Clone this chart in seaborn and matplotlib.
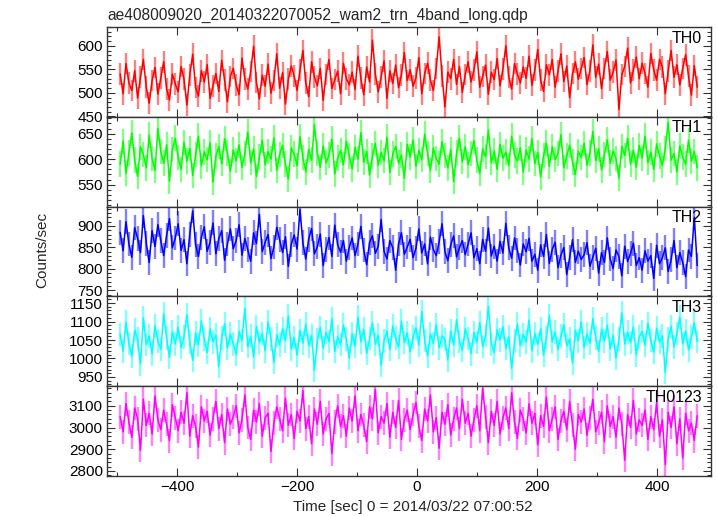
import numpy as np
import pandas as pd
import matplotlib
matplotlib.use("Agg")
import matplotlib.pyplot as plt
from matplotlib.ticker import MultipleLocator
import seaborn as sns

sns.set_theme(style="white")
plt.rcParams['font.family'] = ['Liberation Sans', 'DejaVu Sans']

title = "ae408009020_20140322070052_wam2_trn_4band_long.qdp"
x_label = "Time [sec] 0 = 2014/03/22 07:00:52"
y_label = "Counts/sec"
t_start, t_end = -495, 467

band_names = ["TH0", "TH1", "TH2", "TH3", "TH0123"]
band_colors = ["#ff0000", "#00ff00", "#0000ff", "#00ffff", "#ff00ff"]
band_errors = [23, 25, 29, 32, 55]

th0 = [540, 498, 562, 521, 505, 547, 489, 533, 571, 512, 478, 526, 554, 497, 531, 566, 508, 485, 540, 519,
       502, 556, 529, 474, 538, 582, 511, 493, 547, 523, 560, 488, 515, 541, 503, 569, 527, 481, 535, 552,
       517, 496, 574, 530, 508, 545, 599, 522, 487, 538, 514, 561, 499, 526, 583, 510, 543, 476, 529, 557,
       536, 505, 548, 590, 521, 492, 566, 533, 515, 552, 484, 539, 571, 509, 528, 546, 498, 563, 530, 517,
       544, 507, 578, 531, 496, 555, 523, 612, 540, 502, 534, 568, 488, 547, 520, 559, 511, 538, 586, 526,
       549, 514, 532, 575, 498, 541, 563, 527, 505, 552, 619, 536, 470, 544, 530, 571, 518, 556, 501, 539,
       566, 523, 548, 587, 512, 535, 559, 497, 544, 528, 573, 515, 551, 600, 534, 508, 562, 540, 521, 555,
       531, 578, 516, 549, 592, 527, 503, 560, 538, 571, 512, 546, 583, 524, 557, 490, 541, 566, 529, 552,
       575, 518, 547, 602, 533, 561, 509, 552, 588, 527, 544, 570, 465, 539, 556, 595, 521, 548, 576, 530,
       563, 541, 512, 584, 549, 527, 571, 555, 498, 546, 590, 533, 560, 517, 552, 581, 536, 495, 558, 512]

th1 = [590, 635, 572, 612, 651, 598, 566, 624, 609, 583, 647, 601, 578, 660, 615, 592, 628, 557, 619, 641,
       603, 580, 633, 596, 621, 568, 609, 645, 587, 614, 599, 632, 555, 606, 625, 591, 640, 612, 576, 618,
       597, 628, 584, 611, 653, 593, 620, 566, 604, 637, 589, 615, 600, 642, 578, 609, 627, 590, 561, 622,
       610, 587, 644, 603, 575, 619, 598, 668, 612, 584, 626, 593, 608, 639, 571, 602, 617, 589, 635, 606,
       581, 623, 600, 652, 594, 615, 569, 606, 631, 588, 613, 597, 643, 574, 610, 625, 592, 608, 562, 629,
       604, 638, 586, 617, 599, 649, 611, 578, 622, 601, 590, 634, 607, 583, 619, 556, 612, 641, 595, 624,
       589, 611, 636, 598, 572, 620, 605, 657, 593, 616, 580, 629, 602, 614, 587, 645, 608, 596, 622, 575,
       618, 600, 640, 591, 613, 565, 607, 632, 586, 624, 599, 611, 648, 583, 606, 627, 594, 570, 615, 603,
       631, 588, 612, 654, 597, 620, 579, 609, 638, 592, 616, 601, 563, 625, 607, 641, 590, 618, 584, 627,
       602, 645, 593, 614, 580, 630, 606, 588, 621, 672, 598, 611, 575, 626, 604, 590, 637, 596, 615, 583]

th2 = [885, 842, 910, 858, 827, 896, 871, 838, 924, 860, 815, 889, 852, 903, 866, 831, 878, 917, 849, 872,
       905, 843, 868, 812, 881, 935, 856, 829, 874, 898, 841, 862, 907, 835, 870, 889, 820, 858, 893, 847,
       866, 903, 832, 871, 845, 818, 884, 859, 927, 840, 862, 880, 824, 851, 897, 868, 838, 875, 806, 857,
       879, 846, 938, 861, 823, 869, 894, 835, 852, 881, 808, 845, 873, 829, 902, 856, 839, 866, 818, 850,
       872, 831, 858, 899, 844, 810, 862, 877, 836, 853, 915, 841, 823, 866, 849, 797, 858, 884, 834, 851,
       869, 826, 848, 893, 837, 858, 812, 874, 845, 831, 863, 905, 840, 819, 856, 877, 828, 849, 866, 833,
       858, 884, 826, 847, 812, 869, 841, 895, 830, 853, 818, 864, 837, 906, 849, 825, 872, 843, 809, 858,
       840, 871, 818, 834, 797, 856, 829, 880, 813, 845, 862, 803, 832, 850, 787, 826, 868, 815, 841, 822,
       833, 861, 806, 827, 848, 790, 838, 815, 872, 823, 801, 844, 829, 784, 853, 817, 836, 860, 808, 826,
       797, 842, 818, 831, 778, 855, 812, 826, 849, 794, 821, 866, 803, 838, 815, 782, 844, 829, 920, 808]

th3 = [1065, 1020, 1098, 1041, 1006, 1077, 1052, 985, 1110, 1038, 1061, 1012, 1089, 1047, 1025, 1120, 1056, 1003, 1072, 1039,
       1085, 1030, 1058, 1118, 1044, 995, 1069, 1036, 1102, 1051, 1016, 1080, 1045, 1063, 978, 1055, 1094, 1027, 1066, 1040,
       1011, 1073, 1049, 1135, 1032, 1060, 1004, 1087, 1043, 1068, 1021, 1099, 1053, 990, 1064, 1037, 1081, 1048, 1115, 1026,
       1057, 1009, 1076, 1042, 1093, 1034, 1062, 968, 1050, 1084, 1028, 1071, 1046, 1107, 1019, 1059, 1038, 1090, 1052, 1001,
       1067, 1033, 1112, 1045, 1079, 1014, 1054, 1096, 1039, 1063, 982, 1048, 1075, 1024, 1088, 1055, 1031, 1101, 1043, 1069,
       1018, 1058, 1083, 1036, 1127, 1049, 1007, 1066, 1041, 1092, 1029, 1061, 1051, 996, 1074, 1037, 1105, 1046, 1022, 1080,
       1054, 1013, 1070, 1043, 1097, 1032, 1062, 1141, 1040, 1016, 1078, 1050, 1086, 1027, 1059, 973, 1047, 1093, 1035, 1065,
       1044, 1104, 1021, 1068, 1038, 1081, 1009, 1057, 1116, 1045, 1072, 1025, 1060, 1091, 1034, 1053, 987, 1076, 1048, 1099,
       1030, 1066, 1042, 1108, 1055, 1019, 1079, 1047, 1090, 1026, 1063, 1001, 1052, 1124, 1039, 1071, 1043, 1085, 1010, 1058,
       1073, 1036, 1095, 1049, 1017, 1082, 1044, 1061, 962, 1054, 1087, 1031, 1068, 1112, 1040, 1075, 1023, 1058, 1097, 1046]

th0123 = [3050, 2980, 3110, 3025, 2955, 3090, 3040, 2895, 3130, 3010, 3065, 2970, 3145, 3035, 2990, 3080, 3015, 2940, 3105, 3045,
          2985, 3070, 3020, 3160, 2960, 3055, 3005, 2910, 3095, 3030, 3075, 2965, 3040, 3120, 2995, 3060, 2930, 3085, 3015, 3050,
          3100, 2975, 3035, 3150, 3000, 2945, 3080, 3025, 3110, 2960, 3045, 3065, 2890, 3020, 3095, 3040, 2985, 3135, 3010, 3060,
          2950, 3075, 3030, 3170, 2995, 3050, 2925, 3085, 3015, 3120, 2970, 3040, 3065, 2880, 3025, 3100, 3005, 3055, 2960, 3090,
          3030, 3145, 2985, 3060, 3010, 2935, 3095, 3040, 3175, 2975, 3050, 3020, 3110, 2955, 3070, 3000, 3125, 2945, 3035, 3080,
          2990, 3060, 3115, 3005, 2940, 3085, 3030, 3150, 2980, 3045, 2905, 3070, 3015, 3105, 2965, 3040, 3090, 2995, 3130, 3020,
          3065, 2960, 3035, 3100, 2985, 3180, 3050, 2930, 3075, 3010, 3120, 2970, 3045, 3090, 2995, 3160, 3025, 2950, 3080, 3040,
          2975, 3110, 3020, 3065, 2920, 3055, 3005, 3140, 2985, 3040, 3095, 2945, 3030, 3075, 2990, 3120, 3010, 2900, 3060, 3025,
          3085, 2965, 3045, 3130, 2980, 3020, 3070, 2935, 3100, 3005, 3050, 2955, 3090, 3015, 2850, 3060, 3000, 3125, 2970, 3035,
          3010, 3080, 2945, 3050, 2990, 3115, 2960, 3035, 2830, 3070, 3000, 3095, 2925, 3040, 2860, 3065, 2985, 3020, 2940, 3055]

band_values = [th0, th1, th2, th3, th0123]
y_limits = [(449, 640), (507, 683), (736, 945), (925, 1168), (2777, 3190)]
y_major = [50, 50, 50, 50, 100]
y_minor = [10, 10, 10, 10, 20]

W, H = 717, 516
fig = plt.figure(figsize=(W / 100, H / 100), dpi=100)
left, right, top, bottom = 107 / W, 711 / W, 1 - 27 / H, 1 - 476 / H
gs = fig.add_gridspec(5, 1, left=left, right=right, top=top, bottom=bottom, hspace=0)

axes = []
for i, (name, col, err, vals) in enumerate(zip(band_names, band_colors, band_errors, band_values)):
    ax = fig.add_subplot(gs[i], sharex=axes[0] if axes else None)
    axes.append(ax)
    t = np.linspace(t_start, t_end, len(vals))
    df = pd.DataFrame({"t": t, "rate": vals})
    ax.vlines(df["t"], df["rate"] - err, df["rate"] + err, color=col, alpha=0.5, lw=1.7)
    sns.lineplot(data=df, x="t", y="rate", ax=ax, color=col, lw=1.1, estimator=None)
    ax.set_xlim(-517, 490)
    ax.set_ylim(*y_limits[i])
    ax.yaxis.set_major_locator(MultipleLocator(y_major[i]))
    ax.yaxis.set_minor_locator(MultipleLocator(y_minor[i]))
    ax.xaxis.set_major_locator(MultipleLocator(200))
    ax.xaxis.set_minor_locator(MultipleLocator(100))
    ax.tick_params(which='both', direction='in', top=True, right=True, bottom=True, left=True,
                   colors='#333333', labelcolor='black', labelsize=11, width=0.8)
    ax.tick_params(which='major', length=6, pad=3)
    ax.tick_params(which='minor', length=3)
    for s in ax.spines.values():
        s.set_color('#333333')
        s.set_linewidth(1.0)
    ax.set_xlabel("")
    ax.set_ylabel("")
    if i < 4:
        ax.tick_params(labelbottom=False)
    ax.text(0.985, 0.96, name, transform=ax.transAxes, ha='right', va='top', fontsize=11.5, color='black')

fig.text(left, 1 - 20 / H, title, ha='left', va='baseline', fontsize=11.2)
fig.text(42 / W, 1 - 250 / H, y_label, rotation=90, ha='center', va='center', fontsize=11)
fig.text(413 / W, 1 - 507 / H, x_label, ha='center', va='center', fontsize=11)

fig.savefig("out.png", dpi=100)
